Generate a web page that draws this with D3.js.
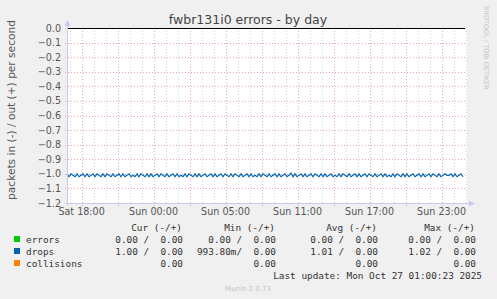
<!DOCTYPE html>
<html>
<head>
<meta charset="utf-8">
<script src="https://cdn.jsdelivr.net/npm/d3@7"></script>
<style>
  html, body { margin: 0; padding: 0; background: #f0f0f0; }
  svg { display: block; }
  text { font-family: "DejaVu Sans", sans-serif; }
  .mono { font-family: "DejaVu Sans Mono", monospace; font-size: 9.4px; fill: #333; white-space: pre; }
</style>
</head>
<body>
<svg id="chart" width="497" height="299"></svg>
<script>
  var title = "fwbr131i0 errors - by day";
  var yTitle = "packets in (-) / out (+) per second";
  var yTicks = [0, -0.1, -0.2, -0.3, -0.4, -0.5, -0.6, -0.7, -0.8, -0.9, -1.0, -1.1, -1.2];
  // time axis, labels are local time (DST switch on Sunday morning)
  var xTickTimes = [
    Date.UTC(2025, 9, 25, 16), Date.UTC(2025, 9, 25, 22), Date.UTC(2025, 9, 26, 4),
    Date.UTC(2025, 9, 26, 10), Date.UTC(2025, 9, 26, 16), Date.UTC(2025, 9, 26, 22)
  ];
  var xTickLabels = ["Sat 18:00", "Sun 00:00", "Sun 05:00", "Sun 11:00", "Sun 17:00", "Sun 23:00"];
  var startTime = Date.UTC(2025, 9, 25, 14, 47);
  var endTime = Date.UTC(2025, 9, 27, 0, 7);
  var sampleStep = 10 * 60 * 1000;

  var seriesNames = ["errors", "drops", "collisions"];
  var seriesColors = ["#00cc00", "#0066b3", "#ff8000"];
  // drops received per second, 10 minute samples (drawn below zero)
  var dropsIn = [
    1.00, 1.02, 1.00, 1.01, 1.02, 1.00, 1.02, 1.01, 1.00, 1.02, 1.00, 1.02, 1.01, 1.00, 1.02, 1.00, 1.01, 1.02, 1.00, 1.02,
    1.00, 1.01, 1.02, 1.00, 1.02, 1.01, 1.00, 1.02, 1.00, 1.02, 1.01, 1.00, 1.02, 1.01, 1.02, 1.00, 1.02, 1.00, 1.01, 1.02,
    1.00, 1.02, 1.00, 1.02, 1.01, 1.00, 1.02, 1.00, 1.01, 1.02, 1.00, 1.02, 1.01, 1.00, 1.02, 1.00, 1.02, 1.01, 1.02, 1.00,
    1.02, 1.00, 1.01, 1.02, 1.00, 1.02, 1.00, 1.02, 1.01, 1.00, 1.02, 1.01, 1.00, 1.02, 1.00, 1.02, 1.01, 1.00, 1.02, 1.00,
    1.01, 1.02, 1.00, 1.02, 1.00, 1.01, 1.02, 1.00, 1.02, 1.01, 1.00, 1.02, 1.00, 1.02, 1.01, 1.02, 1.00, 1.02, 1.00, 1.01,
    1.02, 1.00, 1.02, 1.01, 1.00, 1.02, 1.00, 1.02, 1.01, 1.00, 1.02, 1.01, 0.994, 1.02, 1.00, 1.02, 1.01, 1.00, 1.02, 1.00,
    1.02, 1.01, 1.00, 1.02, 1.00, 1.01, 1.02, 1.00, 1.02, 1.00, 1.02, 1.01, 1.00, 1.02, 1.01, 1.02, 1.00, 1.02, 1.00, 1.01,
    1.02, 1.00, 1.02, 1.01, 1.00, 1.02, 1.00, 1.02, 1.01, 1.00, 1.02, 1.00, 1.01, 1.02, 1.00, 1.02, 1.01, 1.00, 1.02, 1.00,
    1.02, 1.01, 1.02, 1.00, 1.02, 1.00, 1.01, 1.02, 1.00, 1.02, 1.00, 1.02, 1.01, 1.00, 1.02, 1.01, 1.00, 1.02, 1.00, 1.02,
    1.01, 1.00, 1.02, 1.00, 1.01, 1.02, 1.00, 1.02, 1.01, 1.00, 1.01, 1.01, 1.00, 1.02, 1.00, 1.02, 1.01, 1.00, 1.02
  ];

  var legendHeader = ["Cur (-/+)", "Min (-/+)", "Avg (-/+)", "Max (-/+)"];
  var legendCur = ["0.00 /  0.00", "1.00 /  0.00", "0.00"];
  var legendMin = ["0.00 /  0.00", "993.80m/  0.00", "0.00"];
  var legendAvg = ["0.00 /  0.00", "1.01 /  0.00", "0.00"];
  var legendMax = ["0.00 /  0.00", "1.02 /  0.00", "0.00"];
  var lastUpdate = "Last update: Mon Oct 27 01:00:23 2025";
  var footer = "Munin 2.0.73";
  var watermark = "RRDTOOL / TOBI OETIKER";

  var svg = d3.select("#chart");
  var pLeft = 67, pRight = 467, pTop = 28, pBottom = 203;

  var x = d3.scaleUtc().domain([startTime, endTime]).range([pLeft, pRight]);
  var y = d3.scaleLinear().domain([-1.2, 0]).range([pBottom, pTop]);

  svg.append("rect").attr("x", pLeft).attr("y", pTop).attr("width", pRight - pLeft).attr("height", pBottom - pTop).attr("fill", "#fff");

  // minor grid every hour, major grid every 3 hours
  var hours = d3.utcHour.range(new Date(startTime), new Date(endTime));
  var grid = svg.append("g");
  hours.forEach(function (h) {
    var major = (h.getUTCHours() - 16 + 24) % 3 === 0;
    grid.append("line")
      .attr("x1", Math.round(x(h)) + 0.5).attr("x2", Math.round(x(h)) + 0.5)
      .attr("y1", pTop).attr("y2", pBottom + (major ? 3 : 0))
      .attr("stroke", major ? "#eaa8a8" : "#d6d6d6")
      .attr("stroke-dasharray", "1,2");
  });
  yTicks.forEach(function (v) {
    grid.append("line")
      .attr("x1", pLeft - 2).attr("x2", pRight)
      .attr("y1", Math.round(y(v)) + 0.5).attr("y2", Math.round(y(v)) + 0.5)
      .attr("stroke", "#eaa8a8")
      .attr("stroke-dasharray", "1,2");
  });

  // y tick labels
  svg.append("g").selectAll("text").data(yTicks).enter().append("text")
    .attr("x", 61).attr("y", function (d) { return y(d) + 3.5; })
    .attr("text-anchor", "end").attr("font-size", "9.6px").attr("fill", "#555")
    .text(function (d) { return d3.format(".1f")(d); });

  // x tick labels
  svg.append("g").selectAll("text").data(xTickTimes).enter().append("text")
    .attr("x", function (d) { return x(d); }).attr("y", 215)
    .attr("text-anchor", "middle").attr("font-size", "9.6px").attr("fill", "#555")
    .text(function (d, i) { return xTickLabels[i]; });

  // zero series (errors in/out, drops out, collisions)
  [0, 2].forEach(function (k) {
    svg.append("line").attr("x1", pLeft).attr("x2", pRight - 2)
      .attr("y1", y(0) + 0.5).attr("y2", y(0) + 0.5)
      .attr("stroke", seriesColors[k]).attr("stroke-width", 1);
  });

  var line = d3.line()
    .x(function (d, i) { return x(startTime + i * sampleStep); })
    .y(function (d) { return y(-d); });
  svg.append("path").datum(dropsIn)
    .attr("d", line).attr("fill", "none")
    .attr("stroke", seriesColors[1]).attr("stroke-width", 1.2);

  // zero rule
  svg.append("line").attr("x1", pLeft).attr("x2", pRight - 2)
    .attr("y1", y(0) + 0.5).attr("y2", y(0) + 0.5)
    .attr("stroke", "#000").attr("stroke-width", 1);

  // axes with arrows
  var axisColor = "#c8c8f2";
  svg.append("line").attr("x1", pLeft + 0.5).attr("x2", pLeft + 0.5).attr("y1", pBottom + 2).attr("y2", pTop - 4)
    .attr("stroke", axisColor);
  svg.append("path").attr("d", "M" + (pLeft - 2.5) + "," + (pTop - 2) + "L" + (pLeft + 0.5) + "," + (pTop - 8) + "L" + (pLeft + 3.5) + "," + (pTop - 2) + "Z")
    .attr("fill", axisColor);
  svg.append("line").attr("x1", pLeft - 2).attr("x2", pRight + 4).attr("y1", pBottom + 0.5).attr("y2", pBottom + 0.5)
    .attr("stroke", axisColor);
  svg.append("path").attr("d", "M" + (pRight + 2) + "," + (pBottom - 2.5) + "L" + (pRight + 8) + "," + (pBottom + 0.5) + "L" + (pRight + 2) + "," + (pBottom + 3.5) + "Z")
    .attr("fill", axisColor);

  // titles
  svg.append("text").attr("x", 248).attr("y", 24).attr("text-anchor", "middle")
    .attr("font-size", "12.5px").attr("fill", "#444").text(title);
  svg.append("text").attr("transform", "translate(15,110) rotate(-90)")
    .attr("text-anchor", "middle").attr("font-size", "10.6px").attr("fill", "#555").text(yTitle);
  svg.append("text").attr("transform", "translate(484,6) rotate(90)")
    .attr("font-size", "6.5px").attr("fill", "#c4c4c4").text(watermark);

  // legend
  var lg = svg.append("g");
  var colEnds = [183, 276, 378, 476];
  legendHeader.forEach(function (t, i) {
    lg.append("text").attr("class", "mono").attr("x", colEnds[i] - 1).attr("y", 231)
      .attr("text-anchor", "end").text(t);
  });
  var cols = [legendCur, legendMin, legendAvg, legendMax];
  seriesNames.forEach(function (name, r) {
    var ry = 243 + r * 12;
    lg.append("rect").attr("x", 14).attr("y", ry - 7).attr("width", 6).attr("height", 6)
      .attr("fill", seriesColors[r]);
    lg.append("text").attr("class", "mono").attr("x", 26).attr("y", ry).text(name);
    cols.forEach(function (col, c) {
      lg.append("text").attr("class", "mono").attr("x", colEnds[c]).attr("y", ry)
        .attr("text-anchor", "end").text(col[r]);
    });
  });
  lg.append("text").attr("class", "mono").attr("x", 482).attr("y", 279)
    .attr("text-anchor", "end").text(lastUpdate);
  svg.append("text").attr("x", 248).attr("y", 291).attr("text-anchor", "middle")
    .attr("font-size", "7px").attr("fill", "#c4c4c4").text(footer);
</script>
</body>
</html>
